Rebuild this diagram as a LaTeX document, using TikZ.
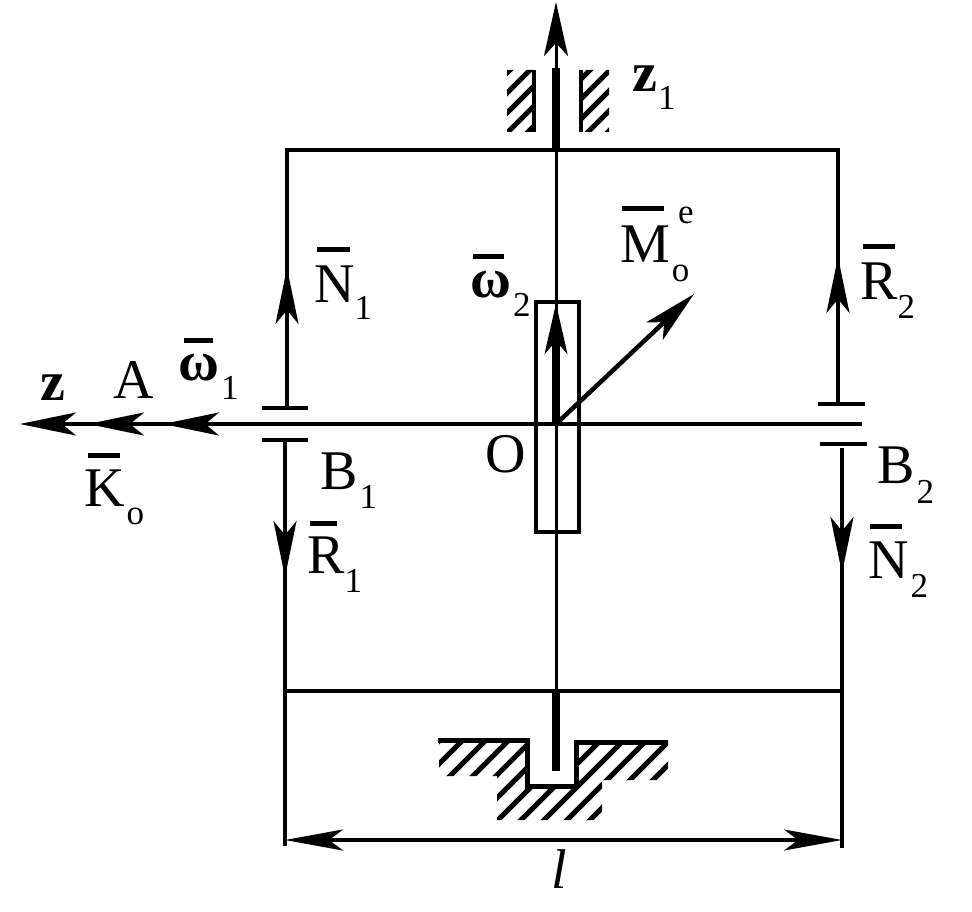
\documentclass[tikz,border=0pt]{standalone}
\usepackage{fontspec}
\setmainfont{Liberation Serif}
\usetikzlibrary{arrows.meta}
\tikzset{
  x=1pt,y=-1pt,
  frame/.style={line width=4pt,line cap=butt},
  thin axis/.style={line width=3pt},
  spindle/.style={line width=8pt},
  bearing/.style={line width=4.5pt},
  hatchline/.style={line width=5pt},
  vec/.style={line width=4pt,-{Stealth[length=56pt,width=23pt,inset=14pt]}},
  dimn/.style={line width=4pt,{Stealth[length=58pt,width=21pt,inset=14pt]}-{Stealth[length=58pt,width=21pt,inset=14pt]}},
  lab/.style={anchor=base west,inner sep=0pt,font=\fontsize{56}{60}\selectfont},
}
\newcommand{\subs}[2]{{\fontsize{35}{35}\selectfont\raisebox{#1}{#2}}}
\newcommand{\ovbar}[3]{\rlap{\hspace{#1}\raisebox{#2}{\rule{#3}{5pt}}}}
\begin{document}
\begin{tikzpicture}
\useasboundingbox[fill=white] (0,0) rectangle (972,912);
% named points
\coordinate (TL) at (287,150); \coordinate (TR) at (838,150);
\coordinate (BL) at (285,691); \coordinate (BR) at (842,691);
\coordinate (O) at (556,424);
\coordinate (Top) at (556,2);
\coordinate (ShaftTop) at (556,68);
\coordinate (ShaftBase) at (556,150);
\coordinate (SpinTop) at (556,691);
\coordinate (SpinEnd) at (556,771);
\coordinate (AxisL) at (20,424); \coordinate (AxisR) at (862,424);
\coordinate (Atip) at (88,424); \coordinate (Wtip) at (163,424);
\coordinate (B1a) at (287,408); \coordinate (B1b) at (285,440);
\coordinate (B2a) at (838,404); \coordinate (B2b) at (842,448);
\coordinate (N1tip) at (287,268); \coordinate (R2tip) at (838,257);
\coordinate (R1tip) at (285,577); \coordinate (N2tip) at (842,573);
\coordinate (L1end) at (285,846); \coordinate (R1end) at (842,848);
\coordinate (DimL) at (285,840); \coordinate (DimR) at (842,840);
\coordinate (Mtip) at (694,294);
\coordinate (W2tip) at (556,303);
% hatching
\begin{scope}
\clip (507,70) rectangle (535,132) (579,70) rectangle (609,132);
\foreach \s in {560,580,...,760} \draw[hatchline] (\s,0) -- (0,\s);
\end{scope}
\begin{scope}
\clip (439,741) rectangle (527,776) (576,741) rectangle (668,780)
      (497,770) rectangle (602,820);
\foreach \s in {1180,1203,...,1500} \draw[hatchline] (\s,0) -- (0,\s);
\end{scope}
\fill[white] (530,745) rectangle (574,784);
% bearings at top and ground
\draw[line width=4pt] (534,70) -- (534,132);
\draw[line width=4pt] (581,70) -- (581,132);
\draw[line width=5pt] (438,740) -- (527,740) -- (527,786) -- (576,786) -- (576,742) -- (668,742);
% frame
\draw[frame] (B1a) -- (TL) -- (TR) -- (B2a);
\draw[frame] (B1b) -- (L1end);
\draw[frame] (B2b) -- (R1end);
\draw[frame] (BL) -- (BR);
% vertical axis
\draw[thin axis,-{Stealth[length=54pt,width=24pt,inset=13pt]}] (SpinTop) -- (Top);
\draw[line width=8pt] (ShaftTop) -- (ShaftBase);
\draw[spindle] (SpinTop) -- (SpinEnd);
% horizontal axis
\draw[vec] (AxisR) -- (AxisL);
\draw[vec] (AxisR) -- (Atip);
\draw[vec] (AxisR) -- (Wtip);
% bearings
\draw[bearing] (262,408) -- (308,408);
\draw[bearing] (262,440) -- (308,440);
\draw[bearing] (818,404) -- (865,404);
\draw[bearing] (820,444) -- (867,444);
% rotor
\node[draw,line width=4pt,minimum width=43pt,minimum height=230pt,inner sep=0pt] (rotor) at (557,417) {};
% vectors
\draw[vec] (287,400) -- (N1tip);
\draw[vec] (838,400) -- (R2tip);
\draw[vec] (285,450) -- (R1tip);
\draw[vec] (842,450) -- (N2tip);
\draw[line width=8pt,-{Stealth[length=50pt,width=22pt,inset=12pt]}] (O) -- (W2tip);
\draw[line width=4.5pt,-{Stealth[length=54pt,width=24pt,inset=13pt]}] (O) -- (Mtip);
\draw[dimn] (DimL) -- (DimR);
% labels
\node[lab,font=\fontsize{56}{60}\selectfont\bfseries] (lz) at (40,400) {z};
\node[lab] (lA) at (113,398) {A};
\node[lab] (lw1) at (178,380) {\ovbar{6pt}{37pt}{29pt}\textbf{ω}\hspace{2pt}\subs{-19pt}{1}};
\node[lab] (lK) at (84,506) {\ovbar{4pt}{48pt}{32pt}K\hspace{2pt}\subs{-18pt}{o}};
\node[lab] (lB1) at (320,489) {B\hspace{2pt}\subs{-19pt}{1}};
\node[lab] (lR1) at (307,573) {\ovbar{3pt}{47pt}{27pt}R\hspace{0pt}\subs{-19pt}{1}};
\node[lab] (lN1) at (314,302) {\ovbar{3pt}{50pt}{33pt}N\hspace{0pt}\subs{-17pt}{1}};
\node[lab] (lw2) at (470,297) {\ovbar{3pt}{38pt}{31pt}\textbf{ω}\hspace{2pt}\subs{-19pt}{2}};
\node[lab] (lO) at (485,472) {O};
\node[lab] (lM) at (620,262) {\ovbar{2pt}{51pt}{42pt}M\hspace{2pt}\rlap{\subs{-19pt}{o}}\hspace{6pt}\subs{39pt}{e}};
\node[lab] (lR2) at (860,299) {\ovbar{3pt}{50pt}{32pt}R\hspace{0pt}\subs{-19pt}{2}};
\node[lab] (lB2) at (877,483) {B\hspace{2pt}\subs{-20pt}{2}};
\node[lab] (lN2) at (868,578) {\ovbar{2pt}{49pt}{32pt}N\hspace{2pt}\subs{-19pt}{2}};
\node[lab,font=\fontsize{56}{60}\selectfont\bfseries] (lz1) at (632,92) {z\hspace{1pt}\subs{-18pt}{\mdseries 1}};
\node[lab,font=\fontsize{56}{60}\selectfont\itshape] (ll) at (551,888) {l};
\end{tikzpicture}
\end{document}
